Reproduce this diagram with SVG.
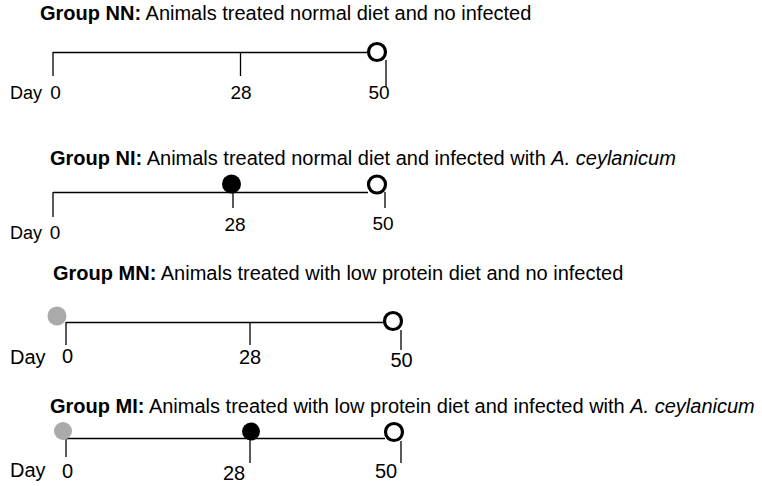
<svg xmlns="http://www.w3.org/2000/svg" width="762" height="486" viewBox="0 0 762 486">
<style>
text{font-family:"Liberation Sans",Arial,sans-serif;font-size:20px;fill:#000}
.s{font-size:18px}
.d{font-size:19px}
.b{font-weight:bold}
.i{font-style:italic}
.m{text-anchor:middle}
line{stroke:#000;stroke-width:1.3}
.open{fill:#fff;stroke:#000;stroke-width:3.2}
.blk{fill:#000}
.gry{fill:#aaa}
</style>
<rect width="762" height="486" fill="#fff"/>
<g id="titles">
<text x="40" y="20"><tspan class="b">Group NN:</tspan> Animals treated normal diet and no infected</text>
<text x="50" y="165"><tspan class="b">Group NI:</tspan> Animals treated normal diet and infected with <tspan class="i">A. ceylanicum</tspan></text>
<text x="53" y="280"><tspan class="b">Group MN:</tspan> Animals treated with low protein diet and no infected</text>
<text x="50" y="413"><tspan class="b">Group MI:</tspan> Animals treated with low protein diet and infected with <tspan class="i">A. ceylanicum</tspan></text>
</g>
<g id="connectors">
<line x1="53" y1="52.5" x2="368" y2="52.5"/>
<line x1="53" y1="52" x2="53" y2="76"/>
<line x1="240.5" y1="52.5" x2="240.5" y2="76"/>
<line x1="386" y1="60" x2="386" y2="87"/>
<line x1="53" y1="192.5" x2="368" y2="192.5"/>
<line x1="53" y1="192" x2="53" y2="217"/>
<line x1="233" y1="192.5" x2="233" y2="208"/>
<line x1="385" y1="192" x2="385" y2="208"/>
<line x1="66" y1="322.5" x2="384" y2="322.5"/>
<line x1="66" y1="322" x2="66" y2="345"/>
<line x1="250" y1="322.5" x2="250" y2="345"/>
<line x1="401" y1="330" x2="401" y2="350"/>
<line x1="66" y1="438.5" x2="385" y2="438.5"/>
<line x1="66" y1="438" x2="66" y2="457"/>
<line x1="250" y1="438.5" x2="250" y2="463"/>
<line x1="401" y1="441" x2="401" y2="463"/>
</g>
<g id="group-NN">
<circle class="open" cx="377" cy="52" r="8.5"/>
<text class="s" x="10" y="99">Day</text>
<text class="m d" x="55.5" y="99">0</text>
<text class="m d" x="241" y="99">28</text>
<text class="m d" x="379" y="99">50</text>
</g>
<g id="group-NI">
<circle class="blk" cx="231.5" cy="184" r="9.5"/>
<circle class="open" cx="377" cy="184.5" r="8.5"/>
<text class="s" x="10" y="239">Day</text>
<text class="m d" x="55" y="239">0</text>
<text class="m d" x="235" y="231">28</text>
<text class="m d" x="383" y="230">50</text>
</g>
<g id="group-MN">
<circle class="gry" cx="57" cy="316" r="9.5"/>
<circle class="open" cx="393" cy="321" r="8.5"/>
<text x="10" y="364">Day</text>
<text class="m" x="67.5" y="363">0</text>
<text class="m" x="250" y="364">28</text>
<text class="m" x="401.5" y="367">50</text>
</g>
<g id="group-MI">
<circle class="gry" cx="63" cy="431" r="9"/>
<circle class="blk" cx="251" cy="431.5" r="9"/>
<circle class="open" cx="394" cy="432" r="8.5"/>
<text x="10" y="477">Day</text>
<text class="m" x="67.5" y="478">0</text>
<text class="m" x="234" y="480">28</text>
<text class="m" x="386" y="478">50</text>
</g>
</svg>
